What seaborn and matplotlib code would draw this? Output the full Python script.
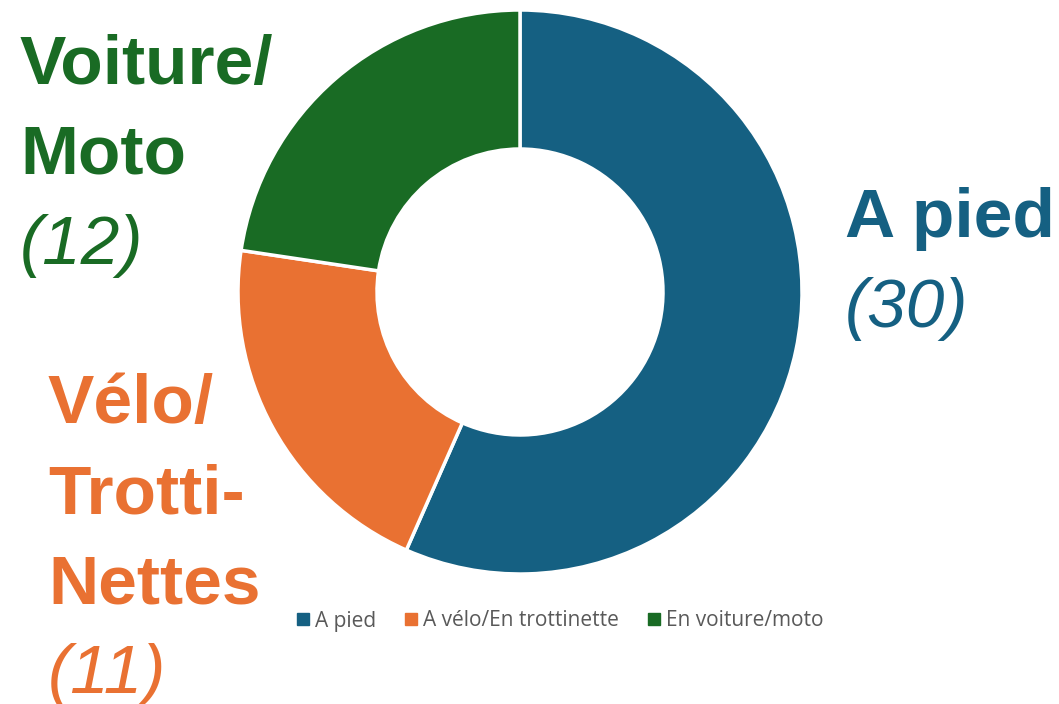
import matplotlib
matplotlib.use("Agg")
import matplotlib.pyplot as plt
import seaborn as sns
from matplotlib.lines import Line2D

# --- data ---
categories = ["A pied", "A vélo/En trottinette", "En voiture/moto"]
counts = [30, 11, 12]
colors = ["#156082", "#E97132", "#196B24"]

# big labels next to the ring (one entry per line)
label_lines = [
    ["A pied"],
    ["Vélo/", "Trotti-", "Nettes"],
    ["Voiture/", "Moto"],
]

sns.set_theme(style="white")
plt.rcParams["font.family"] = ["Liberation Sans", "DejaVu Sans"]

W, H = 1059, 704
fig = plt.figure(figsize=(W / 100, H / 100), dpi=100)
ax = fig.add_axes([0, 0, 1, 1])

# ring, clockwise from 12 o'clock
cx, cy, r_out, r_in = 520, H - 292, 282, 143
ax.pie(counts, colors=sns.color_palette(colors), startangle=90, counterclock=False,
       center=(cx, cy), radius=r_out, frame=True,
       wedgeprops=dict(width=r_out - r_in, edgecolor="white", linewidth=2.5))
ax.set_xlim(0, W)
ax.set_ylim(0, H)
ax.set_aspect("auto")
ax.axis("off")

# label positions: (x, first baseline from top), line step in px
pos = [(845, 237), (48, 423), (20, 84)]
step = 90
fs = 50
for (x, y0), lines, n, c in zip(pos, label_lines, counts, colors):
    for i, line in enumerate(lines):
        ax.text(x, H - (y0 + i * step), line, color=c, fontsize=fs,
                fontweight="bold", va="baseline", ha="left")
    ax.text(x, H - (y0 + len(lines) * step), f"({n})", color=c, fontsize=fs,
            fontstyle="italic", va="baseline", ha="left")

# legend
handles = [Line2D([], [], marker="s", linestyle="", markersize=9,
                  markerfacecolor=c, markeredgecolor=c) for c in colors]
leg = ax.legend(handles, categories, loc="center", ncol=3, frameon=False,
                bbox_to_anchor=(558, H - 621), bbox_transform=ax.transData,
                prop={"family": ["Open Sans", "DejaVu Sans"], "size": 15},
                handletextpad=0.05, columnspacing=1.2, handlelength=1.0)
for t in leg.get_texts():
    t.set_color("#595959")

fig.savefig("out.png", dpi=100)
